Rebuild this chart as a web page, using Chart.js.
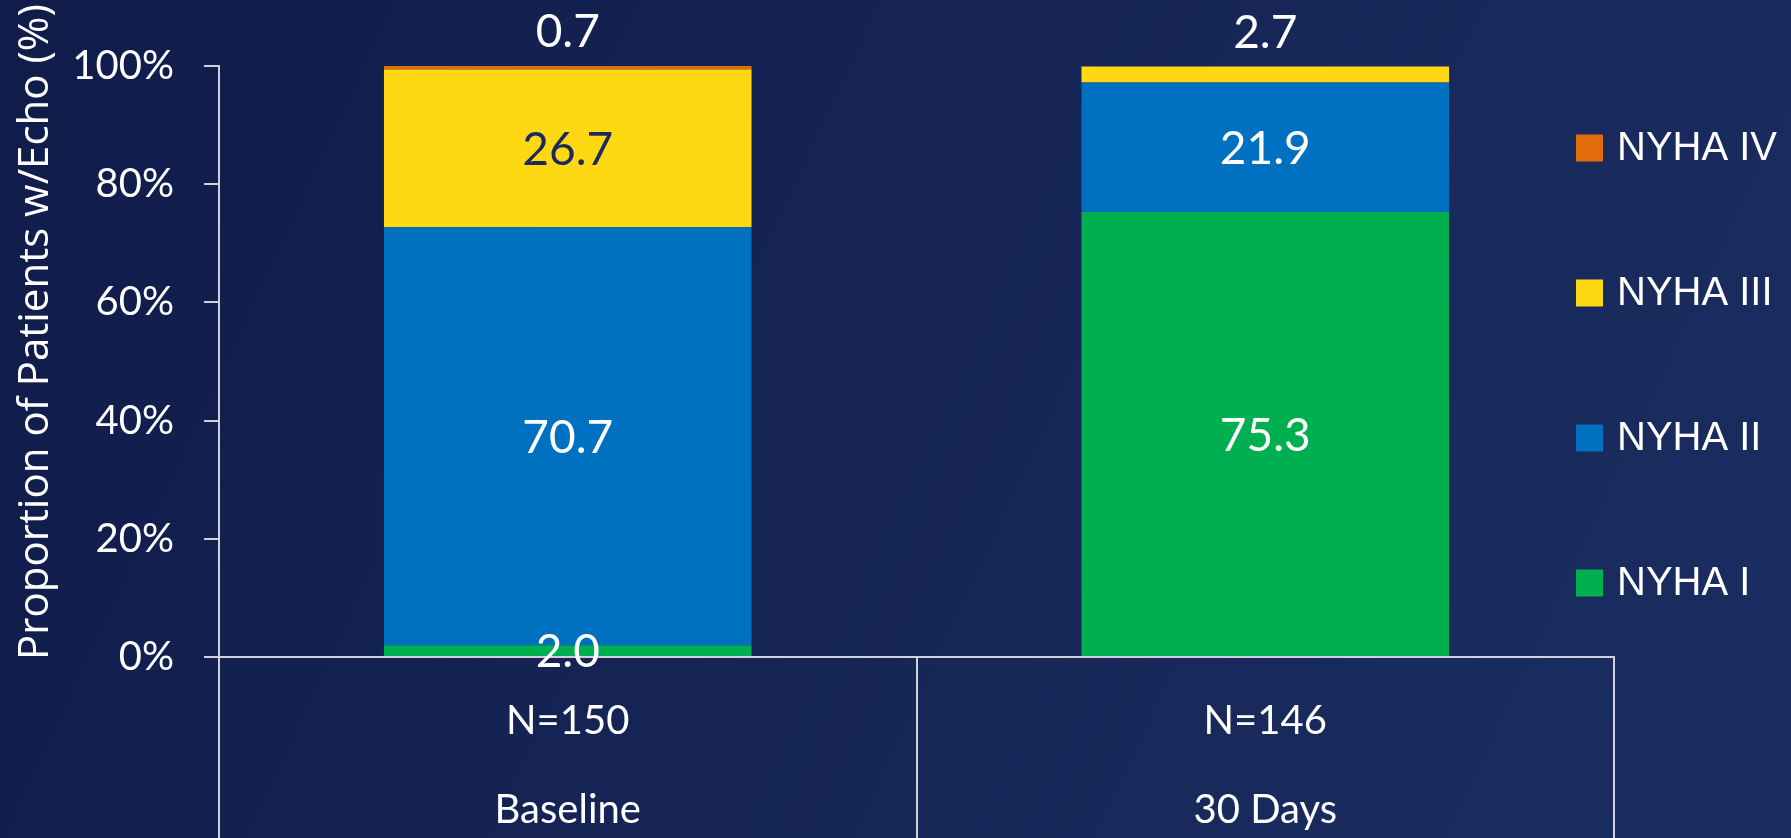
<!DOCTYPE html>
<html>
<head>
<meta charset="utf-8">
<script src="https://cdn.jsdelivr.net/npm/chart.js@4.4.1/dist/chart.umd.min.js"></script>
<style>
  html, body { margin: 0; padding: 0; overflow: hidden; background: #14224f; }
  #wrap { width: 1791px; height: 838px; }
</style>
</head>
<body>
<div id="wrap"><canvas id="nyhaChart" width="1791" height="838"></canvas></div>
<script>
// categories (two-level labels: count on top, timepoint below)
const categories = [["N=150", "Baseline"], ["N=146", "30 Days"]];
const yTicks = [0, 20, 40, 60, 80, 100];
const axisTitle = "Proportion of Patients w/Echo (%)";

// series values (% of patients)
const nyha1 = [2.0, 75.3];
const nyha2 = [70.7, 21.9];
const nyha3 = [26.7, 2.7];
const nyha4 = [0.7, 0];

const seriesNames = ["NYHA I", "NYHA II", "NYHA III", "NYHA IV"];
const seriesColors = ["#00b050", "#0070c0", "#ffd814", "#e36c0a"];
const insideLabelColors = ["#ffffff", "#ffffff", "#1b2a5c", "#ffffff"];

const gridGrey = "#cfd2da";

// background gradient
const backgroundPlugin = {
  id: "bg",
  beforeDraw(chart) {
    const { ctx, width, height } = chart;
    const g = ctx.createLinearGradient(0, 0, width, height);
    g.addColorStop(0, "#101c4a");
    g.addColorStop(1, "#1b2e61");
    ctx.save();
    ctx.fillStyle = g;
    ctx.fillRect(0, 0, width, height);
    ctx.restore();
  },
};

// category table lines below the x axis
const tablePlugin = {
  id: "table",
  afterDraw(chart) {
    const xs = chart.scales.x;
    const n = chart.data.labels.length;
    const w = (xs.right - xs.left) / n;
    const ctx = chart.ctx;
    ctx.save();
    ctx.strokeStyle = gridGrey;
    ctx.lineWidth = 2;
    for (let i = 0; i <= n; i++) {
      const x = Math.round(xs.left + i * w);
      ctx.beginPath();
      ctx.moveTo(x, xs.top);
      ctx.lineTo(x, chart.height);
      ctx.stroke();
    }
    ctx.restore();
  },
};

// value labels on the segments
const valueLabelPlugin = {
  id: "valueLabels",
  afterDatasetsDraw(chart) {
    const ctx = chart.ctx;
    ctx.save();
    ctx.font = "46px Lato";
    ctx.textAlign = "center";
    ctx.textBaseline = "middle";
    const nSets = chart.data.datasets.length;
    chart.data.labels.forEach((_, i) => {
      // topmost non-zero segment in this stack
      let top = -1;
      for (let d = 0; d < nSets; d++) {
        if (chart.data.datasets[d].data[i] > 0) top = d;
      }
      for (let d = 0; d < nSets; d++) {
        const v = chart.data.datasets[d].data[i];
        if (!(v > 0)) continue;
        const el = chart.getDatasetMeta(d).data[i];
        let y, color;
        if (d === top && v < 5) {
          y = el.y - 33;
          color = "#ffffff";
        } else {
          y = (el.y + el.base) / 2 + 2;
          color = insideLabelColors[d];
        }
        ctx.fillStyle = color;
        ctx.fillText(v.toFixed(1), el.x, y);
      }
    });
    ctx.restore();
  },
};

// legend on the right, top item = last series
const legendPlugin = {
  id: "sideLegend",
  afterDraw(chart) {
    const ctx = chart.ctx;
    const sets = chart.data.datasets;
    ctx.save();
    ctx.font = "40px 'Liberation Sans'";
    ctx.textAlign = "left";
    ctx.textBaseline = "middle";
    for (let k = 0; k < sets.length; k++) {
      const ds = sets[sets.length - 1 - k];
      const cy = 148 + k * 145;
      ctx.fillStyle = ds.backgroundColor;
      ctx.fillRect(1576, cy - 13.5, 27, 27);
      ctx.fillStyle = "#ffffff";
      ctx.fillText(ds.label, 1617, cy + 1);
    }
    ctx.restore();
  },
};

// rotated y axis title
const yTitlePlugin = {
  id: "yTitle",
  afterDraw(chart) {
    const ctx = chart.ctx;
    ctx.save();
    ctx.translate(48, 332);
    ctx.rotate(-Math.PI / 2);
    ctx.font = "42px 'Open Sans'";
    ctx.fillStyle = "#ffffff";
    ctx.textAlign = "center";
    ctx.textBaseline = "alphabetic";
    ctx.fillText(axisTitle, 0, 0);
    ctx.restore();
  },
};

const values = [nyha1, nyha2, nyha3, nyha4];
const datasets = seriesNames.map((name, i) => ({
  label: name,
  data: values[i],
  backgroundColor: seriesColors[i],
  borderWidth: 0,
  categoryPercentage: 1,
  barPercentage: 0.527,
}));

const ctx = document.getElementById("nyhaChart").getContext("2d");
const nyhaChart = new Chart(ctx, {
  type: "bar",
  data: { labels: categories, datasets: datasets },
  options: {
    responsive: false,
    animation: false,
    layout: { padding: { top: 66, right: 177, left: 0, bottom: 0 } },
    plugins: {
      legend: { display: false },
      tooltip: { enabled: false },
    },
    scales: {
      x: {
        stacked: true,
        grid: { display: false, drawTicks: false, tickLength: 0 },
        border: { display: true, color: gridGrey, width: 2 },
        ticks: {
          color: "#ffffff",
          padding: 20,
          font: { family: "Lato", size: 40, lineHeight: 89 / 40 },
          maxRotation: 0,
        },
        afterFit(scale) {
          scale.height = 181;
        },
      },
      y: {
        stacked: true,
        min: 0,
        max: 100,
        afterBuildTicks(scale) {
          scale.ticks = yTicks.map((v) => ({ value: v }));
        },
        grid: {
          drawOnChartArea: false,
          drawTicks: true,
          tickLength: 15,
          color: gridGrey,
          lineWidth: 2,
        },
        border: { display: true, color: gridGrey, width: 2 },
        ticks: {
          color: "#ffffff",
          padding: 30,
          font: { family: "Lato", size: 40 },
          callback: (v) => v + "%",
        },
        afterFit(scale) {
          scale.width = 219;
        },
      },
    },
  },
  plugins: [backgroundPlugin, tablePlugin, valueLabelPlugin, legendPlugin, yTitlePlugin],
});
</script>
</body>
</html>
